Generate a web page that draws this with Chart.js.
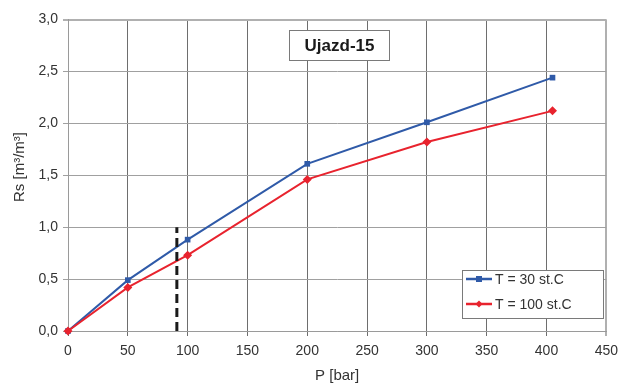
<!DOCTYPE html>
<html>
<head>
<meta charset="utf-8">
<script src="https://cdn.jsdelivr.net/npm/chart.js@4/dist/chart.umd.min.js"></script>
<style>
  html, body { margin: 0; padding: 0; background: #ffffff; }
  #wrap { width: 625px; height: 383px; }
</style>
</head>
<body>
<div id="wrap"><canvas id="c" width="625" height="383"></canvas></div>
<script>
// ---- data ----
const pressure = [0, 50, 100, 200, 300, 405];
const rsT30 = [0, 0.49, 0.88, 1.61, 2.01, 2.44];
const rsT100 = [0, 0.42, 0.73, 1.46, 1.82, 2.12];
const markerP = [91, 91];
const markerRs = [0, 1.0];
const seriesLabels = ['T = 30 st.C', 'T = 100 st.C'];
const chartTitle = 'Ujazd-15';
const xTitle = 'P [bar]';
const yTitle = 'Rs [m\u00B3/m\u00B3]';
const xTicks = [0, 50, 100, 150, 200, 250, 300, 350, 400, 450];
const yTicks = [0, 0.5, 1.0, 1.5, 2.0, 2.5, 3.0];

const BLUE = '#2f5aa8';
const RED = '#e8232e';
const FONT = "'Liberation Sans', Arial, sans-serif";

function pts(xs, ys) { return xs.map((x, i) => ({ x: x, y: ys[i] })); }

const overlay = {
  id: 'overlay',
  afterDraw(chart) {
    const ctx = chart.ctx;
    ctx.save();
    // y axis title
    ctx.fillStyle = '#333333';
    ctx.font = '15px ' + FONT;
    ctx.textAlign = 'center';
    ctx.textBaseline = 'middle';
    ctx.translate(20, 167);
    ctx.rotate(-Math.PI / 2);
    ctx.fillText(yTitle, 0, 0);
    ctx.restore();

    // title box
    ctx.save();
    const tb = { x: 289.5, y: 30.5, w: 100, h: 30 };
    ctx.fillStyle = '#ffffff';
    ctx.fillRect(tb.x, tb.y, tb.w, tb.h);
    ctx.strokeStyle = '#7a7a7a';
    ctx.lineWidth = 1;
    ctx.strokeRect(tb.x, tb.y, tb.w, tb.h);
    ctx.fillStyle = '#1a1a1a';
    ctx.font = 'bold 17px ' + FONT;
    ctx.textAlign = 'center';
    ctx.textBaseline = 'middle';
    ctx.fillText(chartTitle, tb.x + tb.w / 2, tb.y + tb.h / 2 + 1);
    ctx.restore();

    // legend box
    ctx.save();
    const lb = { x: 462.5, y: 270.5, w: 141, h: 48 };
    ctx.fillStyle = '#ffffff';
    ctx.fillRect(lb.x, lb.y, lb.w, lb.h);
    ctx.strokeStyle = '#7a7a7a';
    ctx.lineWidth = 1;
    ctx.strokeRect(lb.x, lb.y, lb.w, lb.h);
    const items = [
      { label: seriesLabels[0], color: BLUE, y: 279, style: 'rect' },
      { label: seriesLabels[1], color: RED, y: 304, style: 'diamond' }
    ];
    items.forEach(it => {
      ctx.strokeStyle = it.color;
      ctx.lineWidth = 2.5;
      ctx.beginPath();
      ctx.moveTo(466, it.y);
      ctx.lineTo(492, it.y);
      ctx.stroke();
      ctx.fillStyle = it.color;
      if (it.style === 'rect') {
        ctx.fillRect(476, it.y - 3, 6, 6);
      } else {
        ctx.beginPath();
        ctx.moveTo(479, it.y - 3.5);
        ctx.lineTo(482.5, it.y);
        ctx.lineTo(479, it.y + 3.5);
        ctx.lineTo(475.5, it.y);
        ctx.closePath();
        ctx.fill();
      }
      ctx.fillStyle = '#333333';
      ctx.font = '14px ' + FONT;
      ctx.textAlign = 'left';
      ctx.textBaseline = 'middle';
      ctx.fillText(it.label, 495, it.y + 1);
    });
    ctx.restore();
  }
};

new Chart(document.getElementById('c'), {
  type: 'scatter',
  data: {
    datasets: [
      {
        label: 'marker',
        data: pts(markerP, markerRs),
        showLine: true,
        borderColor: '#1a1a1a',
        borderWidth: 3,
        borderDash: [9, 5],
        pointRadius: 0,
        order: 0,
        clip: false
      },
      {
        label: seriesLabels[1],
        data: pts(pressure, rsT100),
        showLine: true,
        borderColor: RED,
        backgroundColor: RED,
        borderWidth: 2,
        pointStyle: 'rectRot',
        pointRadius: 4.5,
        pointBorderWidth: 0,
        order: 1,
        clip: false
      },
      {
        label: seriesLabels[0],
        data: pts(pressure, rsT30),
        showLine: true,
        borderColor: BLUE,
        backgroundColor: BLUE,
        borderWidth: 2,
        pointStyle: 'rect',
        pointRadius: 4,
        pointBorderWidth: 0,
        order: 2,
        clip: false
      }
    ]
  },
  options: {
    responsive: false,
    animation: false,
    devicePixelRatio: 1,
    layout: { padding: { top: 19.5, right: 11, left: 0, bottom: 0 } },
    plugins: {
      legend: { display: false },
      tooltip: { enabled: false },
      title: { display: false }
    },
    scales: {
      x: {
        type: 'linear',
        min: 0,
        max: 450,
        afterBuildTicks(scale) { scale.ticks = xTicks.map(v => ({ value: v })); },
        afterFit(scale) { scale.height = 52; },
        ticks: {
          color: '#333333',
          font: { family: FONT, size: 14 },
          padding: 7,
          maxRotation: 0,
          autoSkip: false
        },
        grid: {
          color: ctx => (ctx.tick && ctx.tick.value === 450) ? '#b0b0b0' : '#6e6e6e',
          lineWidth: ctx => (ctx.tick && ctx.tick.value === 450) ? 2 : 1,
          tickLength: 5,
          drawTicks: true
        },
        border: { color: '#9a9a9a', width: 1 },
        title: {
          display: true,
          text: xTitle,
          color: '#333333',
          font: { family: FONT, size: 15, lineHeight: 1 },
          padding: { top: 0, bottom: 0 }
        }
      },
      y: {
        type: 'linear',
        min: 0,
        max: 3,
        afterBuildTicks(scale) { scale.ticks = yTicks.map(v => ({ value: v })); },
        afterFit(scale) { scale.width = 68; },
        ticks: {
          color: '#333333',
          font: { family: FONT, size: 14 },
          padding: 5,
          autoSkip: false,
          callback: v => v.toFixed(1).replace('.', ',')
        },
        grid: {
          color: ctx => (ctx.tick && ctx.tick.value === 3) ? '#b0b0b0' : '#a0a0a0',
          lineWidth: ctx => (ctx.tick && ctx.tick.value === 3) ? 2 : 1,
          tickLength: 5,
          drawTicks: true
        },
        border: { color: '#9a9a9a', width: 1 }
      }
    }
  },
  plugins: [overlay]
});
</script>
</body>
</html>
